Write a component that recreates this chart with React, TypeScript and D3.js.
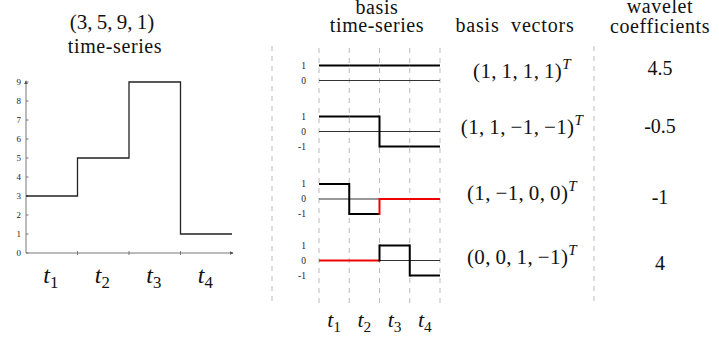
import React from 'react';
import * as d3 from 'd3';

// data
const series = [3, 5, 9, 1];
const yTicks = [0, 1, 2, 3, 4, 5, 6, 7, 8, 9];
const timeLabels = ['1', '2', '3', '4'];
const basisVectors = [
  [1, 1, 1, 1],
  [1, 1, -1, -1],
  [1, -1, 0, 0],
  [0, 0, 1, -1],
];
const basisText = ['(1,\u20091,\u20091,\u20091)', '(1,\u20091,\u2009\u22121,\u2009\u22121)', '(1,\u2009\u22121,\u20090,\u20090)', '(0,\u20090,\u20091,\u2009\u22121)'];
const rowTicks = [[1, 0], [1, 0, -1], [1, 0, -1], [1, 0, -1]];
const coefficients = ['4.5', '-0.5', '-1', '4'];

// layout
const W = 719;
const H = 341;
const rowZero = [80.5, 131.5, 199, 260.5];
const vecBase = [78, 134, 200, 264];
const coefBase = [75, 133, 204, 270];
const serif = "'Liberation Serif', 'DejaVu Serif', serif";

const TLabel = ({ x, y, sub, size }: { x: number; y: number; sub: string; size: number }) => (
  <text x={x} y={y} textAnchor="middle" style={{ fontFamily: serif }} fill="#111">
    <tspan fontStyle="italic" fontSize={size}>t</tspan>
    <tspan fontSize={size * 0.7} dy={size * 0.22}>{sub}</tspan>
  </text>
);

const App = () => {
  // left time-series panel
  const x = d3.scaleLinear().domain([0, 4]).range([26, 232]);
  const y = d3.scaleLinear().domain([0, 9]).range([253, 82]);
  const stepPts: [number, number][] = series.map((v, i) => [i, v]);
  stepPts.push([4, series[series.length - 1]]);
  const step = d3
    .line<[number, number]>()
    .x((d) => x(d[0]))
    .y((d) => y(d[1]))
    .curve(d3.curveStepAfter);

  // basis panel
  const bx = d3.scaleLinear().domain([0, 4]).range([319, 440]);

  const txt = (size: number, ls = 0) => ({ fontFamily: serif, fontSize: size, letterSpacing: ls });

  return (
    <svg width={W} height={H} style={{ position: 'absolute', left: 0, top: 0, background: '#fff' }}>
      <defs>
        <marker id="arr" viewBox="0 0 6 6" refX="5" refY="3" markerWidth="4" markerHeight="4" orient="auto">
          <path d="M0,0 L6,3 L0,6 z" fill="#555" />
        </marker>
      </defs>

      {/* left titles */}
      <text x={112} y={29} textAnchor="middle" style={txt(21)} fill="#111">(3,{'\u2009'}5,{'\u2009'}9,{'\u2009'}1)</text>
      <text x={115} y={53} textAnchor="middle" style={txt(20, 0.6)} fill="#111">time-series</text>

      {/* left axes */}
      <line x1={x(0)} x2={x(4) + 1} y1={y(0)} y2={y(0)} stroke="#777" strokeWidth={1} markerEnd="url(#arr)" />
      <line x1={x(0)} x2={x(0)} y1={y(0)} y2={y(9) - 1} stroke="#777" strokeWidth={1} markerEnd="url(#arr)" />
      {yTicks.map((t) => (
        <g key={t}>
          <line x1={x(0)} x2={x(0) + 2.5} y1={y(t)} y2={y(t)} stroke="#777" />
          <text x={21} y={y(t) + 3} textAnchor="end" style={txt(9)} fill="#222">{t}</text>
        </g>
      ))}
      {[1, 2, 3].map((t) => (
        <line key={t} x1={x(t)} x2={x(t)} y1={y(0) - 2} y2={y(0) + 2} stroke="#777" />
      ))}
      <path d={step(stepPts) || ''} fill="none" stroke="#222" strokeWidth={1.3} />
      {timeLabels.map((s, i) => (
        <TLabel key={s} x={x(i + 0.5) - 1} y={283} sub={s} size={24} />
      ))}

      {/* separators */}
      {[272, 594].map((sx) => (
        <line key={sx} x1={sx} x2={sx} y1={46} y2={306} stroke="#bbb" strokeWidth={1} strokeDasharray="5,5" />
      ))}

      {/* middle headers */}
      <text x={377} y={14} textAnchor="middle" style={txt(20, 0.6)} fill="#111">basis</text>
      <text x={377} y={32} textAnchor="middle" style={txt(20, 0.6)} fill="#111">time-series</text>
      <text x={515} y={32} textAnchor="middle" style={txt(20, 0.8)} fill="#111" xmlSpace="preserve">basis  vectors</text>
      <text x={660} y={13} textAnchor="middle" style={txt(20, 0.6)} fill="#111">wavelet</text>
      <text x={660} y={33} textAnchor="middle" style={txt(20, 0.6)} fill="#111">coefficients</text>

      {/* basis grid */}
      {[0, 1, 2, 3, 4].map((t) => (
        <line key={t} x1={bx(t)} x2={bx(t)} y1={48} y2={306} stroke="#bbb" strokeWidth={1} strokeDasharray="5,5" />
      ))}

      {basisVectors.map((vec, r) => {
        const ry = d3.scaleLinear().domain([-1, 1]).range([rowZero[r] + 15, rowZero[r] - 15]);
        return (
          <g key={r}>
            <line x1={bx(0)} x2={bx(4)} y1={ry(0)} y2={ry(0)} stroke="#333" strokeWidth={1} />
            {rowTicks[r].map((t) => (
              <text key={t} x={306} y={ry(t) + 3} textAnchor="end" style={txt(9.5)} fill="#222">{t}</text>
            ))}
            {vec.map((v, i) => (
              <g key={i}>
                {i > 0 && vec[i - 1] !== v && (
                  <line x1={bx(i)} x2={bx(i)} y1={ry(vec[i - 1])} y2={ry(v)} stroke={v === 0 ? '#e00' : '#000'} strokeWidth={2} strokeLinecap="square" />
                )}
                <line x1={bx(i)} x2={bx(i + 1)} y1={ry(v)} y2={ry(v)} stroke={v === 0 ? '#e00' : '#000'} strokeWidth={2} />
              </g>
            ))}
            <text x={522} y={vecBase[r]} textAnchor="middle" style={txt(21, 0.4)} fill="#111">
              {basisText[r]}
              <tspan fontStyle="italic" fontSize={15} dy={-9}>T</tspan>
            </text>
            <text x={660} y={coefBase[r]} textAnchor="middle" style={txt(20)} fill="#111">{coefficients[r]}</text>
          </g>
        );
      })}
      {timeLabels.map((s, i) => (
        <TLabel key={s} x={bx(i + 0.5)} y={327} sub={s} size={22} />
      ))}
    </svg>
  );
};

export default App;
